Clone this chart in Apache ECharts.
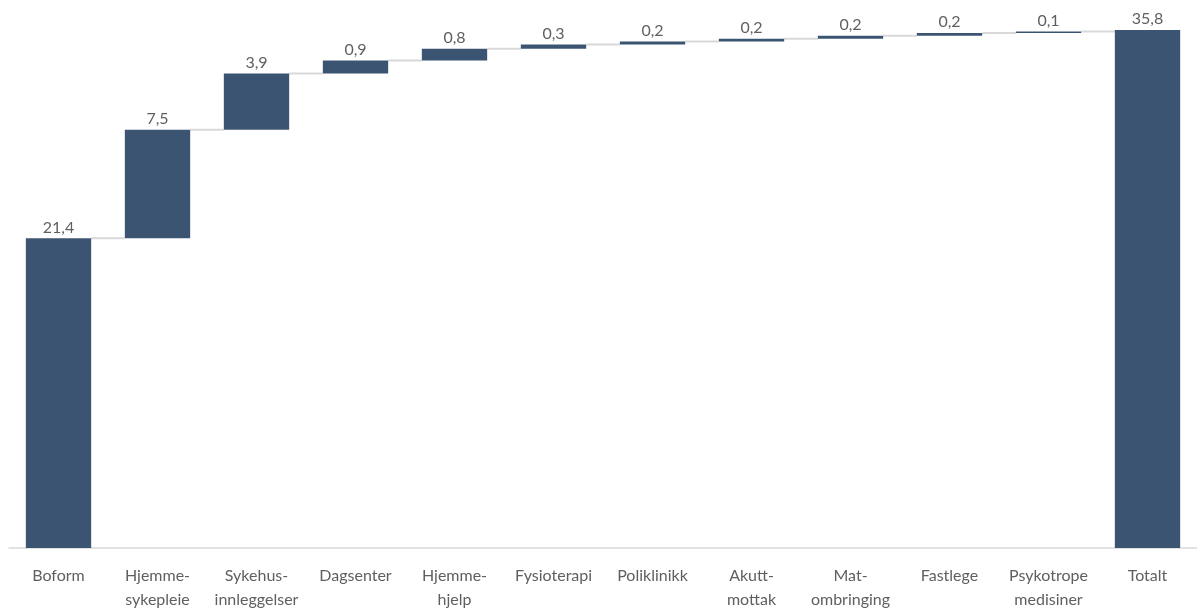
<!DOCTYPE html>
<html>
<head>
<meta charset="utf-8">
<script src="https://cdn.jsdelivr.net/npm/echarts@6/dist/echarts.min.js"></script>
<style>
html,body{margin:0;padding:0;background:#fff;}
#chart{width:1197px;height:612px;}
</style>
</head>
<body>
<div id="chart"></div>
<script>
const categories = ['Boform','Hjemme-\nsykepleie','Sykehus-\ninnleggelser','Dagsenter','Hjemme-\nhjelp','Fysioterapi','Poliklinikk','Akutt-\nmottak','Mat-\nombringing','Fastlege','Psykotrope\nmedisiner','Totalt'];
const increments = [21.4, 7.5, 3.9, 0.9, 0.8, 0.3, 0.2, 0.2, 0.2, 0.2, 0.1];
const total = 35.8;

// derived series for the waterfall
const baseValues = [];
const barValues = [];
const levels = [];
let run = 0;
increments.forEach(function (v) {
  baseValues.push(+run.toFixed(2));
  barValues.push(v);
  run += v;
  levels.push(+run.toFixed(2));
});
baseValues.push(0);
barValues.push(total);
const connectorData = levels.map(function (lv, i) { return [i, lv]; });

const chart = echarts.init(document.getElementById('chart'), null, {renderer: 'canvas'});
const fontFam = 'Lato, "Open Sans", sans-serif';
chart.setOption({
  animation: false,
  grid: {left: 9, width: 1192, top: 30, bottom: 59, containLabel: false},
  xAxis: {
    type: 'category',
    data: categories,
    axisTick: {show: false},
    axisLine: {lineStyle: {color: '#d9d9d9', width: 1.5}},
    axisLabel: {interval: 0, color: '#5f5f5f', fontSize: 16, fontFamily: fontFam, lineHeight: 24, margin: 16}
  },
  yAxis: {
    type: 'value', min: 0, max: 35.8, show: false, splitLine: {show: false}
  },
  series: [
    {
      type: 'custom',
      z: 1,
      silent: true,
      data: connectorData,
      renderItem: function (params, api) {
        const i = api.value(0);
        const lv = api.value(1);
        const p1 = api.coord([i, lv]);
        const p2 = api.coord([i + 1, lv]);
        const half = api.size([1, 0])[0] * 0.66 / 2;
        return {
          type: 'line',
          shape: {x1: p1[0] + half, y1: p1[1], x2: p2[0] - half, y2: p2[1]},
          style: {stroke: '#d9d9d9', lineWidth: 2}
        };
      }
    },
    {
      type: 'bar', stack: 'w', barWidth: '66%', z: 2,
      itemStyle: {color: 'transparent'},
      emphasis: {disabled: true},
      data: baseValues
    },
    {
      type: 'bar', stack: 'w', barWidth: '66%', z: 3,
      itemStyle: {color: '#3a5472'},
      label: {
        show: true, position: 'top', distance: 3,
        color: '#5f5f5f', fontSize: 16, fontFamily: fontFam,
        formatter: function (p) { return p.value.toFixed(1).replace('.', ','); }
      },
      data: barValues
    }
  ]
});
</script>
</body>
</html>
